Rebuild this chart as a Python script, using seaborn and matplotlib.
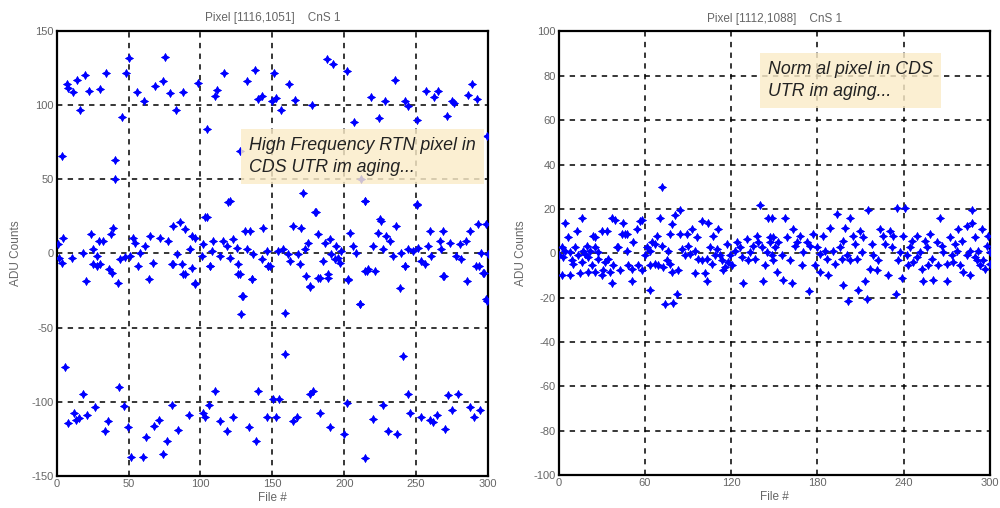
import matplotlib
matplotlib.use("Agg")
import matplotlib.pyplot as plt
import seaborn as sns
import pandas as pd

# ---------------- data ----------------
left_x = [
    # upper level
    7, 8.1, 11.6, 14.3, 16.2, 19.7, 22.5, 30.1, 34.3, 45.2, 48, 50.5, 55.6, 60.7, 68.4, 74.2,
    75.3, 78.8, 82.8, 87.6, 98.5, 104.3, 110.1, 111.6, 116.4, 132.6, 138, 140.2, 142.5, 149.6,
    151.2, 152.5, 155.8, 161.8, 166, 177.4, 187.8, 192.4, 201.7, 206.8, 218.4, 224.4, 228.4,
    235.3, 242.3, 244.6, 250.8, 256.9, 262.4, 265.2, 271.7, 274.8, 276.3, 286.3, 288.7, 292.1,
    # transitions
    3.7, 40.6, 40.6, 299.6, 127.5, 212, 119.4, 104.3, 171, 179.8, 214.4, 250.3, 225,
    # middle level, first half
    4.6, 1.1, 1.8, 3.5, 10.4, 18.5, 20.2, 23.6, 25, 27.8, 29.7, 32.4, 30.1, 25.5, 36.6, 38.2,
    37.8, 39.4, 42.9, 44, 47.5, 51, 52.9, 54.5, 58, 56.8, 61.4, 64.4, 64.9, 67.2, 71.9, 77.7,
    81.1, 85.8, 89.3, 83.5, 80, 87, 89.3, 93.9, 96.2, 93.9, 96.2, 92.7, 100.9, 103.2, 102, 109,
    106.6, 107.8, 115.9, 113.6, 118.2, 120.6, 120.6, 122.9, 125.2, 126.4, 127.5, 128.7, 128.2,
    131, 134.5, 132.2, 135.6, 136.8, 142.6, 143.8, 146.1, 147.2,
    # middle level, second half
    148.2, 154, 157.4, 160.9, 162.1, 164.4, 170.2, 167.9, 169, 173.7, 176, 174.8, 172.5, 180.2,
    181.8, 183, 185.3, 186.4, 188.7, 189.9, 191, 193.4, 194.5, 195.7, 196.9, 198, 158.6, 202.7,
    203.8, 206.1, 208.5, 210.8, 214.3, 214.3, 216.6, 221.2, 220, 223.5, 225.8, 227, 229.3,
    231.6, 234, 236.3, 238.6, 239.8, 242.1, 244.4, 247.9, 250.7, 251.4, 253.7, 256, 258.3,
    259.5, 260.6, 266.4, 268.7, 268.7, 267.6, 273.4, 278, 280.3, 281.5, 285, 285.4, 287.3,
    291.9, 293.1, 295.4, 296.6, 298.9, 300, 298.9,
    # extra low-middle points
    27.8, 81.1, 88, 96.2, 106.6, 126.3, 129.8, 135.6, 147.2, 158.8, 176.2, 182, 188.9, 202.8,
    210.9, 215.5, 241, 242.2, 269.4, 293.7, 297.2, 299.5, 5.8,
    # lower level
    8.1, 12.1, 13.5, 15.8, 18.1, 21.4, 26.7, 33.6, 36, 43.6, 46.9, 49.9, 51.5, 59.9, 62.2, 67.7,
    71.4, 74.2, 76.6, 80, 84.7, 92.3, 101.6, 103.2, 106.2, 110.2, 113.7, 118.8, 122.5, 134.1,
    138.7, 139.9, 146.6, 150.3, 152.6, 154.9, 164.2, 167, 176.3, 178.6, 182.8, 190.2, 199.5,
    202.2, 214.5, 220.3, 226.8, 230.1, 236.6, 244.7, 245.8, 253.3, 259.8, 261.6, 264.4, 270.2,
    272.5, 274.8, 278.8, 287.6, 290.4, 294.5,
]
left_y = [
    114.4, 111.7, 108.7, 117, 96.8, 120, 109.8, 111, 121.5, 92.3, 121.5, 132, 108.7, 103, 113,
    116.6, 132.8, 108, 97, 108.7, 114.8, 84, 106.5, 110, 121.5, 116.6, 123.8, 104.2, 106.5, 103,
    121.5, 104.6, 96.8, 114.4, 103.7, 100.4, 131.3, 128, 122.9, 88.4, 105.3, 91.4, 103, 117, 103,
    99.7, 90, 109.8, 105.3, 109.8, 93, 103, 101.5, 107, 114.4, 104.2,
    66, 63, 50, 79.4, 69.3, 50, 35, 24.7, 41, 28.3, 35.5, 33.3, 23.1,
    10.7, 6.2, -2.8, -6.2, -2.8, 0.6, -18.5, 13, 2.9, -1.7, 8.5, 8.5, -7.3, -7.3, -10.7, -12.9,
    13, 17.5, -19.7, -3.9, -2.1, -1.7, 10.7, 7.4, 0.6, -8.4, 5.1, -17.4, 11.9, -6.2, 10.7, 8.5,
    18.6, 20.9, 16.4, -0.5, -7.3, -7.3, -14, 11.9, 10.7, -9.5, -19.7, 2.9, -1.7, 24.3, 6.2, 8.5,
    -8.4, 1.7, 8.5, -1.7, 5.1, 35.5, -2.8, 9.6, 4, -7.3, -14, -28.7, -41.1,
    15.2, 15.2, 2.9, -17.4, -0.5, -3.9, 17.5, 1.7, -8.4,
    -8.4, 1.7, 2.9, -0.5, -5, 18.6, 17.5, -0.5, -7.3, -15.2, -21.9, 7.4, 2.9, 28.3,
    13, -16.3, -5, 7.4, -16.3, 9.6, -0.5, -3.9, 5.1, -2.8, -6.2, 1.7, -40, -17.4,
    14.1, 5.1, 0.6, -34.3, 35.5, -11.8, -10.7, -11.8, 5.1, 14.1, 22, 2.9, 11.9,
    8.5, -1.6, 18.6, -23, 0.6, -8.4, 2.9, 1.7, 32.6, 4, -5, -7.3, 5.1,
    15.2, -1.6, 8.5, 15.2, -15.2, 2.9, 7.4, -1.6, 6.2, -3.9, 8.5, -18.5, 15.2,
    -8.4, 19.7, 0.6, -12.9, 19.7, -0.5, -31,
    -8.5, -7.3, -14.1, -20.4, -8.5, -14.1, -28.7, -17.5, -8.5, -67.7, -22.6, -16.3, -14.1, -18.1,
    -33.9, -11.8, -69.3, -8.5, -15.2, -8.5, -13, -31.7, -76.7,
    -114.4, -107.6, -112.1, -111, -94.8, -108.7, -103.8, -120, -113.2, -90.3, -103.1, -117.3,
    -136.9, -136.9, -124, -116.6, -112.1, -135.3, -126.3, -102, -118.9, -108.7, -107.6, -109.9,
    -102.4, -92.5, -113.2, -120, -109.9, -117.3, -126.3, -92.5, -109.9, -97.9, -110.5, -97.9,
    -113.2, -110.5, -94.8, -92.5, -107.6, -117.3, -121.8, -100.8, -138, -111.4, -102.4, -119.5,
    -121.8, -94.8, -107.6, -109.9, -112.1, -113.7, -108.7, -118.2, -95.2, -105.4, -94.8, -103.8,
    -110.5, -105.4,
]

right_x = [
    4.4, 6.7, 2.1, 3.2, 2.1, 7.9, 12.5, 11.3, 10.2, 14.8, 16, 17.1, 19.5, 20.6, 22.9, 24.1, 25.3,
    27.6, 29.9, 33.4, 31.1, 35.7, 36.9, 36.9, 39.2, 40.3, 42.7, 45, 46.1, 47.3, 48.4, 50.8, 51.9,
    54.2, 56.6, 57.7, 60, 63.5, 64.7, 63.5, 68.2, 70.5, 72.1, 69.3, 72.8, 74, 76.3, 77.4, 78.6,
    79.7, 80.9, 82.1, 84.4, 84.4, 83.2, 87.9, 90.2, 92.5, 94.8, 96, 97.1, 99.5, 101.8, 102.9,
    104.1, 105.3, 107.6, 108.7, 111.1, 112.2, 115.7, 116.9, 119.2, 120.3, 123.8, 126.1, 128.5,
    130.8, 133.1, 136.6, 138.9, 140.1, 142.4, 143.5, 145.8, 148.2,
    148.2, 149.3, 150.5, 151.6, 156.3, 157.4, 158.6, 162.1, 163.2, 164.4, 167.9, 169, 172.5,
    174.4, 177.1, 178.3, 181.8, 184.1, 185.3, 187.6, 188.7, 192.2, 193.4, 195.7, 198, 199.2,
    200.3, 201.5, 202.7, 205, 207.3, 208.5, 209.6, 213.1, 214.3, 215.4, 216.6, 217.7, 221.2,
    223.5, 225.8, 229.3, 230.5, 232.8, 234.7, 235.1, 236.3, 239.3, 240.9, 238.6, 242.1, 244.4,
    246.7, 249, 251.4, 253.7, 254.8, 257.2, 258.3, 260.6, 262.9, 265.3, 267.6, 269.9, 272.2,
    274.5, 275.7, 278, 279.2, 281.5, 283.8, 286.1, 287.3, 287.3, 289.6, 290.8, 293.1, 294.3,
    296.6, 298.9, 300,
    # denser core of the cloud
    0.5, 4.4, 7.9, 9.0, 13.7, 16.0, 18.3, 21.8, 25.3, 27.6, 20.6, 25.3, 29.9, 32.2, 34.5, 38.0,
    41.5, 43.8, 47.3, 50.8, 55.4, 57.7, 61.2, 63.5, 67.0, 67.0, 71.6, 75.1, 77.4, 78.6, 85.5,
    89.0, 91.3, 94.8, 99.5, 102.9, 106.4, 109.9, 113.4, 114.5, 118.0, 122.6, 127.3, 131.9, 135.4,
    137.7, 141.2, 144.7, 147.0, 149.3,
    147.0, 152.8, 155.1, 160.9, 165.6, 170.2, 174.8, 179.5, 181.8, 186.4, 191.1, 196.9, 198.0,
    202.7, 206.1, 210.8, 211.9, 218.9, 222.4, 227.0, 231.6, 237.4, 243.2, 245.6, 249.0, 252.5,
    256.0, 259.5, 264.1, 266.4, 269.9, 273.4, 276.9, 280.3, 283.8, 286.1, 289.6, 291.9, 295.4,
    297.7, 300.0,
]
right_y = [
    13.7, 7.1, 2.7, -1.7, -9.8, -9.8, 10.1, 2.7, -4.7, -9.1, 15.9, 1.2, 3.4, -1.7, -5.4, 7.8, 2.7,
    -2.5, 10.1, 10.1, -7.6, -8.3, -13.5, 15.9, 15.2, 2.7, -7.6, 13.7, 8.6, 1.2, -5.4, -12.7, 4.9,
    10.8, 14.5, -7.6, -1, -16.4, 4.9, -5.4, 7.8, 15.9, 29.9, -5.4, -6.1, -23, 1.2, 8.6, 13,
    -22.3, 17.4, -18.6, 19.6, 8.6, -7.6, -1, 3.4, 10.8, -9.1, 7.1, -2.5, 14.5, -9.1, -12.7,
    13.7, 2.7, 7.8, -1, 10.8, -1, -6.1, 4.2, -1, -5.4, 4.9, 2.7, -13.5,
    6.4, 0.5, -2.5, 4.9, 21.8, -12.7, -5.4, 15.9, -1,
    15.9, 7.1, 2.7, -8.3, -12, 15.9, 7.1, -13.5, 10.8, 3.4, 7.8, -5.4, 4.9,
    -17.2, 8.6, -5.4, -8.3, 7.8, 1.2, -9.8, 11.5, -4.7, 17.8, 2.7, -14.2, 11.5,
    -1, -21.6, 15.9, 7.8, -2.5, -16.4, 10.1, -12.7, -20.8, 19.6, -6.9, 4.2, -7.6,
    10.8, 7.8, -9.8, 10.1, 7.8, -18.6, 20.3, -3.2, 7.8, 20.3, -11.3, -1, 2.7,
    -3.9, 7.8, 0.5, -12.7, 5.6, -5.4, 8.6, -12, 4.9, 15.9, 0.5, -12.7, 7.1,
    -3.9, 4.2, 10.8, -5.4, -8.3, 12.3, -9.8, 19.6, 13.7, 7.1, -3.2, -5.4, 10.8,
    -6.9, 7.8, 0.5,
    -1.0, 1.2, 0.5, -3.2, -1.0, -3.9, -0.2, 1.2, 7.1, 0.5, -8.3, -8.3, -9.8, -3.9, -2.5, -5.4,
    2.7, 8.6, 8.6, -6.9, -5.4, 15.2, 2.7, 1.2, -4.7, 4.2, 3.4, -3.2, -4.7, -8.3, 2.0,
    8.6, -0.2, 1.2, -3.2, -2.5, -4.7, 2.0, -3.2, -7.6, -3.9, 1.2, -1.7, -3.2, 3.4,
    7.8, 2.7, 0.5, 4.9, -3.2,
    7.1, 4.9, -1.0, -3.2, 4.9, 0.5, 3.4, 2.7, -0.2, -2.5, 1.2, -2.5, 5.6,
    -3.2, 4.2, 0.5, 7.1, -1.0, -3.2, 4.2, 2.7, 0.5, -5.4, 5.6, -1.7, -6.9,
    2.7, -2.5, -5.4, 3.4, -4.7, -1.0, 1.2, 5.6, -1.0, 1.2, -1.7, 1.2, -3.2,
    3.4, -4.7,
]

left_title = "Pixel [1116,1051]    CnS 1"
right_title = "Pixel [1112,1088]    CnS 1"
left_note = "High Frequency RTN pixel in\nCDS UTR im aging..."
right_note = "Norm al pixel in CDS\nUTR im aging..."
left_xticks = [0, 50, 100, 150, 200, 250, 300]
left_yticks = [-150, -100, -50, 0, 50, 100, 150]
right_xticks = [0, 60, 120, 180, 240, 300]
right_yticks = [-100, -80, -60, -40, -20, 0, 20, 40, 60, 80, 100]

# ---------------- style ----------------
sns.set_style("white")
plt.rcParams['font.family'] = ['Liberation Sans', 'DejaVu Sans']
plt.rcParams['axes.unicode_minus'] = False

fig = plt.figure(figsize=(10, 5.08), dpi=100)
ax1 = fig.add_axes([0.0567, 0.063, 0.4313, 0.876])
ax2 = fig.add_axes([0.5587, 0.065, 0.4313, 0.873])

grey = "#666666"
blue = "#0000ff"

def draw(ax, xs, ys, xticks, yticks, title, note, txy, ylpad):
    df = pd.DataFrame({"File #": xs, "ADU Counts": ys})
    sns.scatterplot(data=df, x="File #", y="ADU Counts", ax=ax, marker="D", s=9,
                    color=blue, edgecolor=blue, linewidth=0.3, zorder=3, legend=False)
    sns.scatterplot(data=df, x="File #", y="ADU Counts", ax=ax, marker=(4, 1, 0), s=38,
                    color=blue, edgecolor=blue, linewidth=0.3, zorder=3, legend=False)
    ax.set_xlim(xticks[0], xticks[-1])
    ax.set_ylim(yticks[0], yticks[-1])
    ax.set_xticks(xticks)
    ax.set_yticks(yticks)
    ax.grid(True, color="black", linestyle=(0, (3.5, 3.5)), linewidth=1.1)
    ax.set_axisbelow(True)
    for s in ax.spines.values():
        s.set_color("black")
        s.set_linewidth(1.6)
        s.set_visible(True)
    ax.tick_params(axis="both", labelsize=8, labelcolor=grey, color="black",
                   direction="in", length=3, width=1, pad=2)
    ax.set_xlabel("File #", fontsize=8.5, color=grey, labelpad=2)
    ax.set_ylabel("ADU Counts", fontsize=8.5, color=grey, labelpad=ylpad)
    ax.set_title(title, fontsize=8.5, color=grey, pad=7)
    ax.text(txy[0], txy[1], note, transform=ax.transAxes, fontsize=12.8,
            style="italic", color="#222222", va="center", ha="left", zorder=5,
            linespacing=1.35,
            bbox=dict(boxstyle="square,pad=0.45", facecolor="#fbecc8",
                      edgecolor="none", alpha=0.82))

draw(ax1, left_x, left_y, left_xticks, left_yticks, left_title, left_note, (0.447, 0.718), 7)
draw(ax2, right_x, right_y, right_xticks, right_yticks, right_title, right_note, (0.485, 0.89), 5)

fig.savefig("out.png", dpi=100)
